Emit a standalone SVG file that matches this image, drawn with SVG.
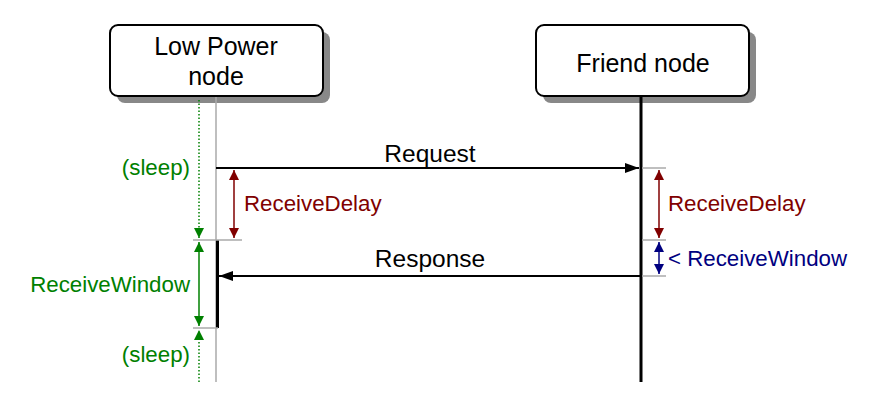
<svg xmlns="http://www.w3.org/2000/svg" width="872" height="406" viewBox="0 0 872 406">
<style>
text{font-family:"Liberation Sans",Arial,sans-serif}
.box{fill:#fff;stroke:#000;stroke-width:2}
.shadow{fill:#888}
.bt{font-size:25px;fill:#000;text-anchor:middle}
.msg{font-size:24.5px;fill:#000;text-anchor:middle}
.lbl{font-size:22.3px}
.tick{stroke:#aaa;stroke-width:1.5;fill:none}
.red{fill:#800000}
.blue{fill:#000080}
.green{fill:#008000}
</style>
<defs>
<marker id="ah" viewBox="0 0 14 10" refX="14" refY="5" markerWidth="14" markerHeight="10" markerUnits="userSpaceOnUse" orient="auto"><path d="M0,0L14,5L0,10Z" fill="#000"/></marker>
<marker id="rh" viewBox="0 0 10 10" refX="10" refY="5" markerWidth="10" markerHeight="10" markerUnits="userSpaceOnUse" orient="auto-start-reverse"><path d="M0,0L10,5L0,10Z" fill="#800000"/></marker>
<marker id="bh" viewBox="0 0 10 10" refX="10" refY="5" markerWidth="10" markerHeight="10" markerUnits="userSpaceOnUse" orient="auto-start-reverse"><path d="M0,0L10,5L0,10Z" fill="#000080"/></marker>
<marker id="gh" viewBox="0 0 10 10" refX="10" refY="5" markerWidth="10" markerHeight="10" markerUnits="userSpaceOnUse" orient="auto-start-reverse"><path d="M0,0L10,5L0,10Z" fill="#008000"/></marker>
</defs>
<g id="lpn">
<rect class="shadow" x="117" y="32" width="213" height="71" rx="8"/>
<rect class="box" x="110" y="25" width="213" height="71" rx="8"/>
<text class="bt" x="216" y="55">Low Power</text>
<text class="bt" x="216" y="85">node</text>
<line x1="216" y1="97" x2="216" y2="382" stroke="#aaa" stroke-width="1.5"/>
<line x1="217.5" y1="240" x2="217.5" y2="328" stroke="#000" stroke-width="3"/>
</g>
<g id="friend">
<rect class="shadow" x="543" y="32" width="213" height="71" rx="8"/>
<rect class="box" x="536" y="25" width="213" height="71" rx="8"/>
<text class="bt" x="643" y="72">Friend node</text>
<line x1="641" y1="97" x2="641" y2="382" stroke="#000" stroke-width="3"/>
</g>
<g id="connectors">
<line x1="216" y1="168" x2="639" y2="168" stroke="#000" stroke-width="2" marker-end="url(#ah)"/>
<text class="msg" x="430" y="162">Request</text>
<line x1="640" y1="276" x2="219" y2="276" stroke="#000" stroke-width="2" marker-end="url(#ah)"/>
<text class="msg" x="430" y="267">Response</text>
</g>
<g id="ticks">
<line class="tick" x1="193" y1="240" x2="242" y2="240"/>
<line class="tick" x1="193" y1="328" x2="218" y2="328"/>
<line class="tick" x1="642" y1="168" x2="666" y2="168"/>
<line class="tick" x1="642" y1="240" x2="666" y2="240"/>
<line class="tick" x1="642" y1="276" x2="666" y2="276"/>
</g>
<g id="lpn-delay">
<line x1="234" y1="170" x2="234" y2="238" stroke="#800000" stroke-width="1.5" marker-start="url(#rh)" marker-end="url(#rh)"/>
<text class="lbl red" x="244" y="211">ReceiveDelay</text>
</g>
<g id="friend-delay">
<line x1="659" y1="170" x2="659" y2="238" stroke="#800000" stroke-width="1.5" marker-start="url(#rh)" marker-end="url(#rh)"/>
<text class="lbl red" x="668" y="211">ReceiveDelay</text>
</g>
<g id="friend-window">
<line x1="659" y1="242" x2="659" y2="274" stroke="#000080" stroke-width="1.5" marker-start="url(#bh)" marker-end="url(#bh)"/>
<text class="lbl blue" x="668" y="266">&lt; ReceiveWindow</text>
</g>
<g id="lpn-timeline">
<line x1="199" y1="100" x2="199" y2="238" stroke="#008000" stroke-width="1.5" stroke-dasharray="1.5,2" marker-end="url(#gh)"/>
<line x1="199" y1="242" x2="199" y2="326" stroke="#008000" stroke-width="1.5" marker-start="url(#gh)" marker-end="url(#gh)"/>
<line x1="199" y1="382" x2="199" y2="330" stroke="#008000" stroke-width="1.5" stroke-dasharray="1.5,2" marker-end="url(#gh)"/>
<text class="lbl green" x="190" y="175" text-anchor="end">(sleep)</text>
<text class="lbl green" x="190" y="292" text-anchor="end">ReceiveWindow</text>
<text class="lbl green" x="190" y="362" text-anchor="end">(sleep)</text>
</g>
</svg>
